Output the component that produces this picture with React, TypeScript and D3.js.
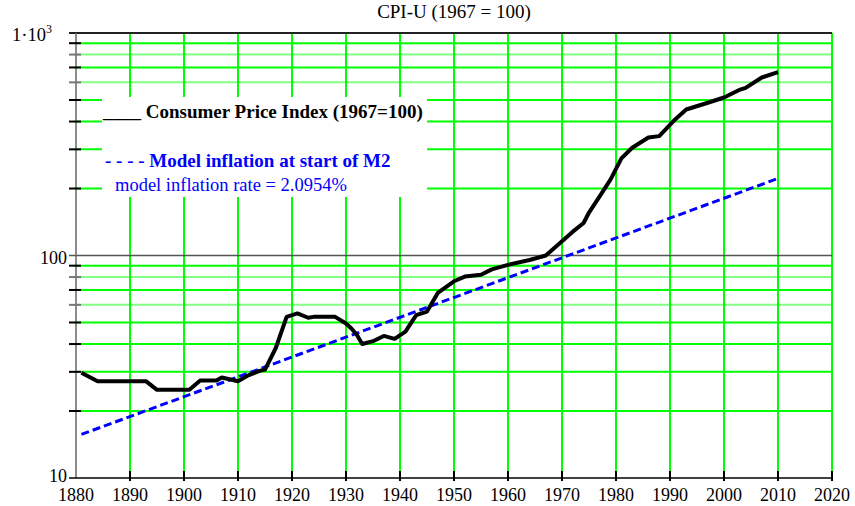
import React, { useEffect, useRef } from "react";
import * as d3 from "d3";

// CPI-U, 1967 = 100
const cpiYears = [
  1881, 1884, 1893, 1895, 1901, 1903, 1906, 1907, 1910, 1912, 1914, 1915, 1917, 1919,
  1921, 1923, 1924, 1928, 1930, 1931, 1932, 1933, 1935, 1937, 1939, 1941, 1943, 1945,
  1947, 1950, 1952, 1955, 1957, 1960, 1964, 1967, 1970, 1972, 1974, 1975, 1977, 1979,
  1981, 1983, 1986, 1988, 1991, 1993, 1997, 2000, 2003, 2004, 2007, 2010,
];
const cpiValues = [
  29.7, 27.2, 27.2, 24.9, 24.9, 27.4, 27.4, 28.3, 27.2, 29, 30.3, 30.7, 38.4, 53,
  54.9, 52.5, 53, 53, 49.5, 47, 44, 40, 41.2, 43.5, 42.2, 45.5, 54, 56,
  67.9, 76.6, 80.4, 81.9, 86.6, 90.8, 95.5, 100, 116, 128, 140, 156, 185, 220,
  273, 305, 339, 344, 410, 453, 486, 513, 557, 567, 631, 667,
];

// model inflation line (straight on the log axis)
const modelYears = [1881, 2010];
const modelValues = [15.7, 222];

const xTicks = [1880, 1890, 1900, 1910, 1920, 1930, 1940, 1950, 1960, 1970, 1980, 1990, 2000, 2010, 2020];
const yGridValues = [20, 30, 40, 50, 60, 70, 80, 90, 200, 300, 400, 500, 600, 700, 800, 900];
const yLightValues = [60, 80, 600, 800];
const yLabels = [
  { v: 10, text: "10", dy: 4 },
  { v: 100, text: "100", dy: 8 },
];

const title = "CPI-U (1967 = 100)";
const legendCpi = "____ Consumer Price Index (1967=100)";
const legendModel = "- - - - Model inflation at start of M2";
const legendRate = "model inflation rate = 2.0954%";

const W = 855;
const H = 506;
const FONT = "'Liberation Serif', 'Times New Roman', serif";

const App = () => {
  const ref = useRef<SVGSVGElement | null>(null);

  useEffect(() => {
    const svg = d3.select(ref.current);
    svg.selectAll("*").remove();

    const x = d3.scaleLinear().domain([1880, 2020]).range([76, 832]);
    const y = d3.scaleLog().domain([10, 1000]).range([478, 33]);
    const [x0, x1] = x.range();

    svg.append("rect").attr("width", W).attr("height", H).attr("fill", "#fff");

    // horizontal grid
    svg
      .selectAll(".hgrid")
      .data(yGridValues)
      .enter()
      .append("line")
      .attr("x1", x0)
      .attr("x2", x1)
      .attr("y1", (d) => y(d))
      .attr("y2", (d) => y(d))
      .attr("stroke", (d) => (yLightValues.includes(d) ? "#80ff80" : "#00ff00"))
      .attr("stroke-width", 2);

    // vertical grid
    svg
      .selectAll(".vgrid")
      .data(xTicks.slice(1))
      .enter()
      .append("line")
      .attr("x1", (d) => x(d))
      .attr("x2", (d) => x(d))
      .attr("y1", y(1000))
      .attr("y2", y(10) - 7)
      .attr("stroke", "#00ff00")
      .attr("stroke-width", 2);

    // 100 and 1000 lines
    svg
      .append("line")
      .attr("x1", x0 - 7)
      .attr("x2", x1)
      .attr("y1", y(100))
      .attr("y2", y(100))
      .attr("stroke", "#555")
      .attr("stroke-width", 1.5);
    svg
      .append("line")
      .attr("x1", x0 - 7)
      .attr("x2", x1)
      .attr("y1", y(1000))
      .attr("y2", y(1000))
      .attr("stroke", "#222")
      .attr("stroke-width", 2);

    // legend box (white, covers the grid)
    svg.append("rect").attr("x", 102).attr("y", 97).attr("width", 325).attr("height", 100).attr("fill", "#fff");

    // y axis line and ticks
    svg
      .append("line")
      .attr("x1", x0)
      .attr("x2", x0)
      .attr("y1", y(1000))
      .attr("y2", y(10))
      .attr("stroke", "#666")
      .attr("stroke-width", 1.5);
    svg
      .selectAll(".ytick")
      .data(yGridValues)
      .enter()
      .append("line")
      .attr("x1", x0 - 7)
      .attr("x2", x0 + 5)
      .attr("y1", (d) => y(d))
      .attr("y2", (d) => y(d))
      .attr("stroke", (d) => (yLightValues.includes(d) ? "#777" : "#000"))
      .attr("stroke-width", 2);

    // x axis line and ticks
    svg
      .append("line")
      .attr("x1", x0 - 7)
      .attr("x2", x1)
      .attr("y1", y(10))
      .attr("y2", y(10))
      .attr("stroke", "#000")
      .attr("stroke-width", 1.5);
    svg
      .selectAll(".xtick")
      .data(xTicks.slice(1))
      .enter()
      .append("line")
      .attr("x1", (d) => x(d))
      .attr("x2", (d) => x(d))
      .attr("y1", y(10) - 7)
      .attr("y2", y(10) + 3)
      .attr("stroke", "#000")
      .attr("stroke-width", 2);

    // labels
    svg
      .selectAll(".xlabel")
      .data(xTicks)
      .enter()
      .append("text")
      .attr("x", (d) => x(d))
      .attr("y", 501)
      .attr("text-anchor", "middle")
      .attr("font-family", FONT)
      .attr("font-size", 18)
      .attr("fill", "#000")
      .text((d) => d);
    svg
      .selectAll(".ylabel")
      .data(yLabels)
      .enter()
      .append("text")
      .attr("x", 67)
      .attr("y", (d) => y(d.v) + d.dy)
      .attr("text-anchor", "end")
      .attr("font-family", FONT)
      .attr("font-size", 18)
      .attr("fill", "#000")
      .text((d) => d.text);
    const top = svg
      .append("text")
      .attr("x", 12)
      .attr("y", y(1000) + 8)
      .attr("font-family", FONT)
      .attr("font-size", 18.5)
      .attr("fill", "#000");
    top.append("tspan").text("1·10");
    top.append("tspan").attr("dy", -8).attr("font-size", 12).text("3");

    svg
      .append("text")
      .attr("x", (x0 + x1) / 2)
      .attr("y", 18)
      .attr("text-anchor", "middle")
      .attr("font-family", FONT)
      .attr("font-size", 19)
      .attr("fill", "#000")
      .text(title);

    // legend text
    svg
      .append("text")
      .attr("x", 103)
      .attr("y", 118)
      .attr("font-family", FONT)
      .attr("font-size", 19)
      .attr("font-weight", "bold")
      .attr("fill", "#000")
      .text(legendCpi);
    svg
      .append("text")
      .attr("x", 105)
      .attr("y", 167)
      .attr("font-family", FONT)
      .attr("font-size", 19)
      .attr("font-weight", "bold")
      .attr("fill", "#0000ff")
      .text(legendModel);
    svg
      .append("text")
      .attr("x", 115)
      .attr("y", 191)
      .attr("font-family", FONT)
      .attr("font-size", 18.5)
      .attr("fill", "#0000ff")
      .text(legendRate);

    // series
    const line = d3
      .line<[number, number]>()
      .x((d) => x(d[0]))
      .y((d) => y(d[1]));

    svg
      .append("path")
      .attr("d", line(modelYears.map((yr, i) => [yr, modelValues[i]] as [number, number])))
      .attr("fill", "none")
      .attr("stroke", "#0000ff")
      .attr("stroke-width", 3)
      .attr("stroke-dasharray", "8 4");

    svg
      .append("path")
      .attr("d", line(cpiYears.map((yr, i) => [yr, cpiValues[i]] as [number, number])))
      .attr("fill", "none")
      .attr("stroke", "#000")
      .attr("stroke-width", 4)
      .attr("stroke-linejoin", "round");
  }, []);

  return (
    <svg
      ref={ref}
      width={W}
      height={H}
      style={{ position: "absolute", left: 0, top: 0 }}
    />
  );
};

export default App;
